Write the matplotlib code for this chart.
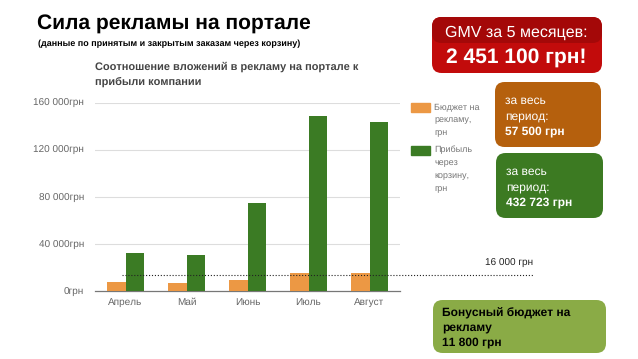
import matplotlib.pyplot as plt
import numpy as np
from matplotlib.patches import FancyBboxPatch

plt.rcParams['font.family'] = ['Liberation Sans', 'DejaVu Sans']
plt.rcParams['text.hinting'] = 'no_hinting'
plt.rcParams['text.hinting_factor'] = 1

months = ["Апрель", "Май", "Июнь", "Июль", "Август"]
budget = [8000, 6500, 9500, 15500, 15500]
profit = [32500, 31000, 74500, 148500, 144000]
yticks = [0, 40000, 80000, 120000, 160000]
ytick_labels = ["0грн", "40 000грн", "80 000грн", "120 000грн", "160 000грн"]
threshold = 14000

orange = '#ec9844'
green = '#3b7b24'

W, H = 638, 359
fig = plt.figure(figsize=(W / 100, H / 100), dpi=100)

def fx(px):
    return px / W

def fy(py):
    return 1 - py / H

ax = fig.add_axes([fx(95), fy(291), fx(400) - fx(95), fy(102.7) - fy(291)])
x = np.arange(len(months))
w = 0.3
ax.bar(x - w / 2, budget, width=w, color=orange, zorder=3)
ax.bar(x + w / 2, profit, width=w, color=green, zorder=3)
ax.set_xlim(-0.5, len(months) - 0.5)
ax.set_ylim(0, 160000)
ax.set_yticks(yticks)
ax.set_yticklabels(ytick_labels)
ax.set_xticks(x)
ax.set_xticklabels(months)
ax.tick_params(axis='both', length=0, labelsize=7.2, colors='#666666')
ax.tick_params(axis='y', pad=8)
ax.tick_params(axis='x', pad=5)
for t in yticks[1:]:
    ax.axhline(t, color='#dddddd', lw=0.8, zorder=1)
for s in ['top', 'right', 'left']:
    ax.spines[s].set_visible(False)
ax.spines['bottom'].set_color('#777777')
ax.spines['bottom'].set_linewidth(0.9)

# chart title
fig.text(fx(95), fy(67), "Соотношение вложений в рекламу на портале к",
         fontsize=8.25, fontweight='bold', color='#444444', va='center', ha='left')
fig.text(fx(95), fy(82), "прибыли компании",
         fontsize=8.25, fontweight='bold', color='#444444', va='center', ha='left')

# page title
fig.text(fx(37), fy(24), "Сила рекламы на портале", fontsize=15.2, fontweight='bold',
         color='black', va='center', ha='left')
fig.text(fx(38), fy(43.5), "(данные по принятым и закрытым заказам через корзину)",
         fontsize=6.2, fontweight='bold', color='black', va='center', ha='left')

# legend
legend_items = [
    (orange, 103, ["Бюджет на", "рекламу,", "грн"]),
    (green, 146, ["Прибыль", "через", "корзину,", "грн"]),
]
for col, top, lines in legend_items:
    fig.patches.append(plt.Rectangle((fx(411), fy(top + 9)), fx(19), fy(top) - fy(top + 9),
                                     transform=fig.transFigure, color=col))
    for i, ln in enumerate(lines):
        fig.text(fx(434), fy(top + 4 + 13 * i), ln, fontsize=6.8, color='#777777',
                 va='center', ha='left')

def box(x0, y0, x1, y1, color):
    p = FancyBboxPatch((fx(x0), fy(y1)), fx(x1 - x0), fy(y0) - fy(y1),
                       boxstyle="round,pad=0,rounding_size=0.015",
                       transform=fig.transFigure, facecolor=color, edgecolor='none',
                       mutation_aspect=W / H)
    fig.patches.append(p)

# GMV box
box(432, 17, 602, 73, '#c20b0b')
box(432, 17, 602, 43, '#a40808')
fig.text(fx(516), fy(33), "GMV за 5 месяцев:", fontsize=11.2, color='white',
         ha='center', va='center')
fig.text(fx(516), fy(58), "2 451 100 грн!", fontsize=15.3, fontweight='bold', color='white',
         ha='center', va='center')

# totals
def total_box(x0, y0, x1, y1, color, tx, ty, amount):
    box(x0, y0, x1, y1, color)
    fig.text(fx(tx), fy(ty), "за весь", fontsize=8.6, color='white', ha='left', va='center')
    fig.text(fx(tx), fy(ty + 15), "период:", fontsize=8.6, color='white', ha='left', va='center')
    fig.text(fx(tx), fy(ty + 30), amount, fontsize=8.6, fontweight='bold', color='white',
             ha='left', va='center')

total_box(495, 82, 601, 147, '#b5600d', 505, 101, "57 500 грн")
total_box(496, 153, 603, 218, '#3c7a22', 506, 172, "432 723 грн")

# bonus box
box(433, 300, 606, 353, '#8aab46')
for i, ln in enumerate(["Бонусный бюджет на", "рекламу", "11 800 грн"]):
    fig.text(fx(442), fy(313 + 14.5 * i), ln, fontsize=8.6, fontweight='bold', color='black',
             ha='left', va='center')

# threshold line
ax.plot([-0.06, 6.68], [threshold, threshold], ls=':', color='#222222', lw=0.8,
        clip_on=False, zorder=4)
fig.text(fx(533), fy(263), "16 000 грн", fontsize=7.5, color='#222222',
         ha='right', va='center')

fig.savefig("out.png", dpi=100)
